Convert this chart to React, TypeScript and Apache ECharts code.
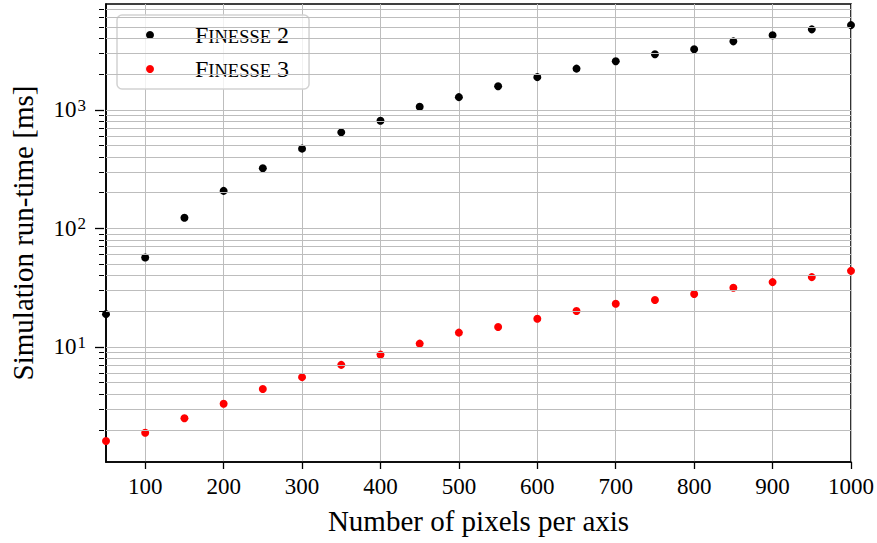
import React, { useEffect, useRef } from "react";
import * as echarts from "echarts";

const pixelsPerAxis = [50, 100, 150, 200, 250, 300, 350, 400, 450, 500, 550, 600, 650, 700, 750, 800, 850, 900, 950, 1000];
const finesse2Ms = [18.9, 56.7, 123, 207, 321, 470, 645, 809, 1060, 1278, 1581, 1884, 2224, 2565, 2938, 3236, 3776, 4249, 4767, 5176];
const finesse3Ms = [1.61, 1.89, 2.5, 3.32, 4.41, 5.56, 7.06, 8.61, 10.66, 13.2, 14.7, 17.3, 20.1, 23.1, 24.9, 27.9, 31.5, 35.2, 38.8, 43.8];
const xTickValues = [100, 200, 300, 400, 500, 600, 700, 800, 900, 1000];
const yMajorValues = [10, 100, 1000];
const yMinorValues = [2, 3, 4, 5, 6, 7, 8, 9, 20, 30, 40, 50, 60, 70, 80, 90, 200, 300, 400, 500, 600, 700, 800, 900, 2000, 3000, 4000, 5000, 6000, 7000];
const seriesNames = ["Finesse 2", "Finesse 3"];

const FONT = "'Liberation Serif', 'DejaVu Serif', serif";

export default function App() {
  const ref = useRef<HTMLDivElement>(null);
  useEffect(() => {
    document.body.style.margin = "0";
    const chart = echarts.init(ref.current!, null, { renderer: "svg" });
    const gridLeft = 104;
    const gridColor = "#bdbdbd";
    const allY = [...yMajorValues, ...yMinorValues];
    chart.setOption({
      animation: false,
      textStyle: { fontFamily: FONT },
      grid: {
        left: gridLeft,
        top: 4,
        width: 747,
        height: 458,
        show: true,
        borderColor: "#000",
        borderWidth: 1.6,
        containLabel: false,
      },
      legend: {
        left: 117,
        top: 15,
        orient: "vertical",
        data: seriesNames,
        icon: "circle",
        itemWidth: 8,
        itemHeight: 8,
        itemGap: 10,
        padding: [8, 20, 8, 29],
        backgroundColor: "rgba(255,255,255,0.8)",
        borderColor: "#d2d2d2",
        borderWidth: 1.5,
        borderRadius: 5,
        selectedMode: false,
        formatter: (name: string) => {
          const num = name.split(" ")[1];
          return `{g| }{big|F}{sc|INESSE}{big| ${num}}`;
        },
        textStyle: {
          fontFamily: FONT,
          color: "#000",
          rich: {
            g: { fontFamily: FONT, fontSize: 24, lineHeight: 28, width: 36 },
            big: { fontFamily: FONT, fontSize: 24, lineHeight: 28, color: "#000" },
            sc: { fontFamily: FONT, fontSize: 18.5, lineHeight: 28, padding: [3, 0, 0, 0], color: "#000" },
          },
        },
      },
      xAxis: {
        type: "value",
        min: 50,
        max: 1000,
        name: "Number of pixels per axis",
        nameLocation: "middle",
        nameGap: 44,
        nameTextStyle: { fontFamily: FONT, fontSize: 29, color: "#000" },
        axisLine: { show: true, lineStyle: { color: "#000", width: 1.6 } },
        axisTick: { show: true, length: 7, inside: false, customValues: xTickValues, lineStyle: { color: "#000", width: 1.3 } },
        axisLabel: {
          customValues: xTickValues,
          fontFamily: FONT,
          fontSize: 23,
          color: "#000",
          margin: 13,
          formatter: (v: number) => String(v),
        },
        splitLine: { show: true, lineStyle: { color: gridColor, width: 1 } },
      },
      yAxis: {
        type: "log",
        logBase: 10,
        min: 1.07,
        max: 7800,
        name: "Simulation run-time [ms]",
        nameLocation: "middle",
        nameGap: 69,
        nameTextStyle: { fontFamily: FONT, fontSize: 29, color: "#000" },
        axisLine: { show: true, lineStyle: { color: "#000", width: 1.6 } },
        axisTick: { show: false },
        splitLine: { show: false },
        axisLabel: {
          margin: 20,
          fontFamily: FONT,
          color: "#000",
          formatter: (v: number) => {
            const l = Math.log10(v);
            if (Math.abs(l - Math.round(l)) > 1e-6) return "";
            return `{b|10}{s|${Math.round(l)}}`;
          },
          rich: {
            b: { fontFamily: FONT, fontSize: 23, lineHeight: 26, color: "#000" },
            s: { fontFamily: FONT, fontSize: 17, lineHeight: 14, verticalAlign: "top", padding: [0, 0, 0, 1], color: "#000" },
          },
        },
      },
      series: [
        {
          name: "grid-and-ticks",
          type: "scatter",
          data: [],
          silent: true,
          clip: false,
          z: 1,
          markLine: {
            silent: true,
            symbol: ["none", "none"],
            label: { show: false },
            emphasis: { disabled: true },
            animation: false,
            data: [
              ...allY.map((v) => ({ yAxis: v, lineStyle: { color: gridColor, width: 1, type: "solid" } })),
              ...yMajorValues.map((v) => [
                { x: gridLeft - 9, yAxis: v, lineStyle: { color: "#000", width: 1.3, type: "solid" } },
                { x: gridLeft, yAxis: v },
              ]),
              ...yMinorValues.map((v) => [
                { x: gridLeft - 5, yAxis: v, lineStyle: { color: "#000", width: 1, type: "solid" } },
                { x: gridLeft, yAxis: v },
              ]),
            ],
          },
        },
        {
          name: seriesNames[0],
          type: "scatter",
          symbol: "circle",
          symbolSize: 8,
          itemStyle: { color: "#000", opacity: 1 },
          data: pixelsPerAxis.map((x, i) => [x, finesse2Ms[i]]),
          z: 3,
        },
        {
          name: seriesNames[1],
          type: "scatter",
          symbol: "circle",
          symbolSize: 8,
          itemStyle: { color: "#ff0000", opacity: 1 },
          data: pixelsPerAxis.map((x, i) => [x, finesse3Ms[i]]),
          z: 3,
        },
      ],
    });
    return () => chart.dispose();
  }, []);
  return <div ref={ref} style={{ width: 877, height: 543 }} />;
}
